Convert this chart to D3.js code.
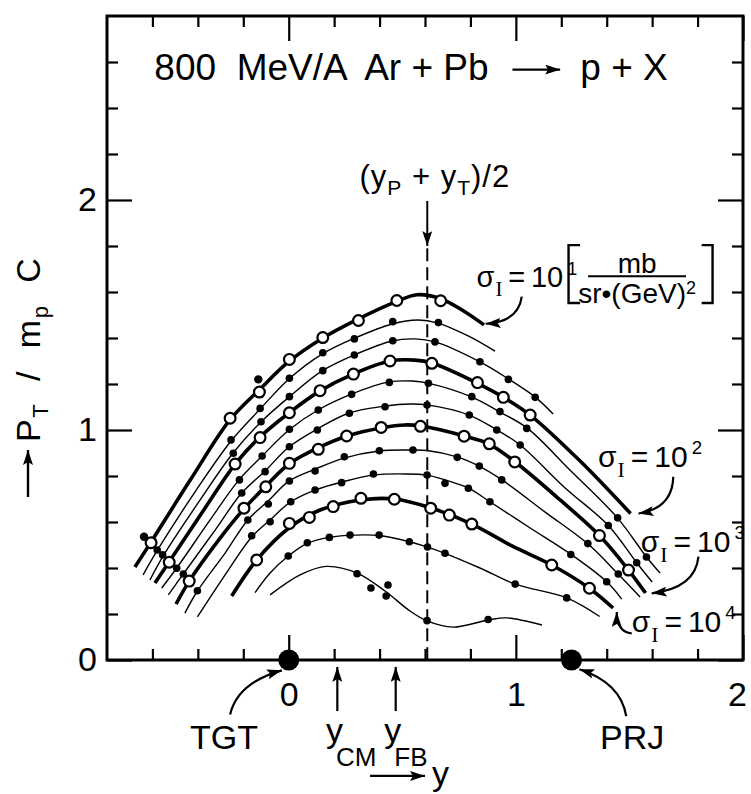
<!DOCTYPE html>
<html>
<head>
<meta charset="utf-8">
<script src="https://cdn.jsdelivr.net/npm/d3@7"></script>
<style>
  body { margin: 0; background: #fff; }
  svg { display: block; font-family: "Liberation Sans", Arial, sans-serif; }
  text { fill: #000; }
  .tick text { font-size: 34px; font-family: "Liberation Sans", Arial, sans-serif; }
</style>
</head>
<body>
<div id="graph"></div>
<script>
// contours of constant invariant cross section, [rapidity y, pT/mpc]
// fit lines and measured points read off the figure, sigma = 10^1 (top) down to the lowest contour
const c1Fit = [[-0.677, 0.404], [-0.606, 0.513], [-0.435, 0.780], [-0.258, 1.045], [-0.126, 1.178], [0.001, 1.298], [0.147, 1.398], [0.305, 1.482], [0.473, 1.558], [0.565, 1.588], [0.666, 1.572], [0.763, 1.522], [0.860, 1.457]];
const c1Pts = [[-0.606, 0.510], [-0.258, 1.051], [-0.129, 1.165], [0.003, 1.307], [0.150, 1.402], [0.307, 1.476], [0.476, 1.563], [0.669, 1.562]];
const c1Extra = [[-0.637, 0.536], [-0.134, 1.220]];

const c2Fit = [[-0.641, 0.370], [-0.580, 0.474], [-0.413, 0.730], [-0.254, 0.952], [-0.126, 1.091], [0.001, 1.222], [0.147, 1.330], [0.292, 1.400], [0.455, 1.461], [0.569, 1.478], [0.657, 1.465], [0.790, 1.409], [0.908, 1.343]];
const c2Pts = [[-0.579, 0.478], [-0.254, 0.957], [-0.126, 1.094], [0.003, 1.225], [0.150, 1.336], [0.289, 1.396], [0.458, 1.471], [0.659, 1.467]];

const c3Fit = [[-0.611, 0.348], [-0.553, 0.452], [-0.390, 0.696], [-0.245, 0.900], [-0.122, 1.035], [0.001, 1.143], [0.147, 1.257], [0.288, 1.326], [0.455, 1.387], [0.556, 1.396], [0.644, 1.383], [0.842, 1.296], [0.967, 1.222], [1.085, 1.143], [1.164, 1.070]];
const c3Pts = [[-0.555, 0.457], [-0.244, 0.899], [-0.122, 1.036], [0.003, 1.145], [0.150, 1.258], [0.289, 1.326], [0.458, 1.388], [0.644, 1.383], [0.842, 1.297], [0.967, 1.220], [1.085, 1.142]];

const c4Fit = [[-0.589, 0.335], [-0.527, 0.426], [-0.368, 0.661], [-0.236, 0.852], [-0.126, 0.970], [0.001, 1.074], [0.138, 1.170], [0.283, 1.243], [0.446, 1.300], [0.556, 1.304], [0.631, 1.291], [0.829, 1.204], [0.944, 1.143], [1.063, 1.065], [1.283, 0.865], [1.505, 0.637]];
const c4Pts = [[-0.526, 0.425], [-0.236, 0.852], [-0.126, 0.967], [0.003, 1.075], [0.138, 1.171], [0.285, 1.243], [0.446, 1.300], [0.630, 1.290], [0.831, 1.206], [0.945, 1.142], [1.063, 1.065]];

const c5Fit = [[-0.559, 0.313], [-0.493, 0.400], [-0.346, 0.609], [-0.219, 0.783], [-0.117, 0.887], [0.001, 1.000], [0.129, 1.087], [0.279, 1.157], [0.442, 1.209], [0.543, 1.213], [0.613, 1.204], [0.807, 1.143], [0.930, 1.078], [1.049, 1.009], [1.238, 0.826], [1.448, 0.617], [1.575, 0.448], [1.635, 0.378]];
const c5Pts = [[-0.493, 0.399], [-0.217, 0.783], [-0.117, 0.887], [0.003, 1.003], [0.130, 1.087], [0.277, 1.155], [0.443, 1.207], [0.615, 1.203], [0.806, 1.145], [0.930, 1.080], [1.048, 1.007], [1.448, 0.618], [1.575, 0.448]];

const c6Fit = [[-0.530, 0.283], [-0.464, 0.374], [-0.324, 0.565], [-0.207, 0.726], [-0.104, 0.822], [0.001, 0.926], [0.125, 1.004], [0.266, 1.074], [0.424, 1.104], [0.534, 1.113], [0.609, 1.109], [0.794, 1.065], [0.917, 1.000], [1.019, 0.935], [1.217, 0.748], [1.407, 0.585], [1.532, 0.423], [1.600, 0.339]];
const c6Pts = [[-0.464, 0.374], [-0.207, 0.726], [-0.104, 0.819], [0.003, 0.927], [0.126, 1.000], [0.267, 1.073], [0.424, 1.101], [0.609, 1.109], [0.795, 1.065], [0.916, 1.000], [1.019, 0.935], [1.407, 0.585], [1.532, 0.423]];

const c7Fit = [[-0.496, 0.243], [-0.438, 0.343], [-0.302, 0.530], [-0.197, 0.657], [-0.100, 0.757], [0.001, 0.852], [0.129, 0.922], [0.257, 0.974], [0.406, 1.009], [0.512, 1.022], [0.583, 1.017], [0.772, 0.974], [0.882, 0.939], [0.997, 0.861], [1.195, 0.696], [1.368, 0.541], [1.496, 0.391], [1.571, 0.291]];
const c7Pts = [[-0.438, 0.343], [-0.197, 0.660], [-0.101, 0.753], [0.003, 0.855], [0.130, 0.916], [0.255, 0.974], [0.407, 1.011], [0.580, 1.016], [0.772, 0.973], [0.883, 0.940], [0.995, 0.861], [1.368, 0.541], [1.496, 0.391]];

const c8Fit = [[-0.457, 0.204], [-0.402, 0.300], [-0.280, 0.465], [-0.180, 0.609], [-0.091, 0.691], [0.001, 0.778], [0.116, 0.830], [0.244, 0.878], [0.398, 0.909], [0.534, 0.913], [0.609, 0.911], [0.741, 0.883], [0.838, 0.843], [0.939, 0.783], [1.129, 0.643], [1.318, 0.504], [1.450, 0.374], [1.547, 0.274]];
const c8Pts = [[-0.402, 0.301], [-0.180, 0.609], [-0.090, 0.678], [0.003, 0.778], [0.116, 0.822], [0.245, 0.884], [0.399, 0.910], [0.547, 0.913], [0.742, 0.881], [0.839, 0.843], [0.938, 0.783], [1.317, 0.506], [1.451, 0.374]];

const c9Fit = [[-0.402, 0.187], [-0.280, 0.370], [-0.163, 0.535], [-0.082, 0.609], [0.009, 0.688], [0.116, 0.739], [0.235, 0.774], [0.371, 0.804], [0.512, 0.809], [0.609, 0.804], [0.688, 0.783], [0.790, 0.748], [0.886, 0.688], [1.063, 0.574], [1.243, 0.459], [1.400, 0.340], [1.466, 0.265]];
const c9Pts = [[-0.163, 0.540], [-0.082, 0.601], [0.009, 0.688], [0.116, 0.739], [0.233, 0.771], [0.373, 0.809], [0.609, 0.804], [0.688, 0.768], [0.791, 0.747], [0.886, 0.688], [1.242, 0.459], [1.400, 0.340]];

const c10Fit = [[-0.251, 0.278], [-0.141, 0.435], [0.001, 0.574], [0.138, 0.652], [0.318, 0.696], [0.464, 0.700], [0.627, 0.661], [0.806, 0.591], [0.983, 0.496], [1.158, 0.413], [1.322, 0.313], [1.428, 0.226]];
const c10Pts = [[-0.141, 0.435], [0.003, 0.594], [0.091, 0.620], [0.196, 0.667], [0.318, 0.703], [0.465, 0.699], [0.625, 0.660], [0.707, 0.630], [0.806, 0.591], [1.158, 0.413], [1.324, 0.312]];

const c11Fit = [[-0.148, 0.293], [-0.082, 0.378], [-0.002, 0.452], [0.082, 0.507], [0.179, 0.533], [0.292, 0.543], [0.398, 0.541], [0.531, 0.514], [0.611, 0.491], [0.688, 0.464], [0.842, 0.400], [0.997, 0.330], [1.224, 0.270], [1.369, 0.189]];
const c11Pts = [[-0.002, 0.452], [0.082, 0.510], [0.179, 0.533], [0.270, 0.543], [0.398, 0.543], [0.531, 0.514], [0.611, 0.491], [0.688, 0.464], [0.997, 0.330], [1.224, 0.270]];

const c12Fit = [[-0.082, 0.283], [0.050, 0.370], [0.164, 0.407], [0.301, 0.378], [0.424, 0.300], [0.534, 0.213], [0.609, 0.170], [0.724, 0.143], [0.878, 0.174], [0.961, 0.183], [1.115, 0.152]];
const c12Pts = [[0.301, 0.375], [0.362, 0.313], [0.437, 0.326], [0.429, 0.278], [0.609, 0.171], [0.878, 0.176]];

// rapidities marked on the axis
const yTarget = 0;
const yProjectile = 1.245;
const yCM = 0.214;
const yFB = 0.471;
const yMid = 0.61;

// axes
const xDomain = [-0.8, 2.0];
const yDomain = [0, 2.8];
const xMinorTicks = [-0.6, -0.4, -0.2, 0.2, 0.4, 0.6, 0.8, 1.2, 1.4, 1.6, 1.8];
const xMajorTicks = [0, 1, 2];
const yMinorTicks = [0.2, 0.4, 0.6, 0.8, 1.2, 1.4, 1.6, 1.8, 2.2, 2.4, 2.6];
const yMajorTicks = [0, 1, 2];

// thick contours (open points) are the labelled decades
const sigmaExponents = ["1", "2", "3", "4"];

class RapidityPlot {
    constructor(options) {
        this.graphdiv = options.graphdiv;
        this.width = options.width || 751;
        this.height = options.height || 794;
        this.frame = options.frame;
        this.curves = options.curves;
        this.initialize();
    }

    initialize() {
        const f = this.frame;
        this.svg = d3.select(this.graphdiv).append("svg")
            .attr("width", this.width)
            .attr("height", this.height);
        this.x = d3.scaleLinear().domain(xDomain).range([f.left, f.right]);
        this.y = d3.scaleLinear().domain(yDomain).range([f.bottom, f.top]);

        const head = this.svg.append("defs").append("marker")
            .attr("id", "head")
            .attr("viewBox", "0 0 10 10")
            .attr("refX", 10).attr("refY", 5)
            .attr("markerWidth", 15).attr("markerHeight", 10)
            .attr("markerUnits", "userSpaceOnUse")
            .attr("preserveAspectRatio", "none")
            .attr("orient", "auto");
        head.append("path").attr("d", "M0,0L10,5L0,10L2,5z").attr("fill", "#000");

        this.drawCurves();
        this.drawAxes();
        this.drawAnnotations();
    }

    drawCurves() {
        const x = this.x, y = this.y;
        const line = d3.line()
            .x(d => x(d[0]))
            .y(d => y(d[1]))
            .curve(d3.curveCatmullRom.alpha(0.5));

        // dashed line at (yP + yT)/2
        this.svg.append("line")
            .attr("x1", x(yMid)).attr("x2", x(yMid))
            .attr("y1", y(1.79)).attr("y2", y(0))
            .attr("stroke", "#000").attr("stroke-width", 2)
            .attr("stroke-dasharray", "13,6");

        const g = this.svg.append("g");
        g.selectAll(".fit").data(this.curves).enter()
            .append("path").attr("class", "fit")
            .attr("d", d => line(d.fit))
            .attr("fill", "none")
            .attr("stroke", "#000")
            .attr("stroke-width", d => d.thick ? 3.6 : 1.4);

        this.curves.forEach(c => {
            g.selectAll(null).data(c.pts).enter()
                .append("circle")
                .attr("cx", d => x(d[0]))
                .attr("cy", d => y(d[1]))
                .attr("r", c.thick ? 5.4 : 3.8)
                .attr("fill", c.thick ? "#fff" : "#000")
                .attr("stroke", "#000")
                .attr("stroke-width", c.thick ? 2.2 : 0);
        });

        g.selectAll(null).data(c1Extra).enter()
            .append("circle")
            .attr("cx", d => x(d[0]))
            .attr("cy", d => y(d[1]))
            .attr("r", 4.2)
            .attr("fill", "#000");
    }

    drawAxes() {
        const f = this.frame, x = this.x, y = this.y;
        const clean = g => {
            g.select(".domain").remove();
            g.attr("font-size", null).attr("font-family", null);
            g.selectAll("line").attr("stroke-width", 2.2);
        };
        const none = () => "";

        this.svg.append("g").attr("transform", `translate(0,${f.bottom})`)
            .call(d3.axisBottom(x).tickValues(xMinorTicks).tickSize(-11).tickFormat(none)).call(clean);
        const xl = this.svg.append("g").attr("transform", `translate(0,${f.bottom})`)
            .call(d3.axisBottom(x).tickValues(xMajorTicks).tickSize(-25).tickPadding(22).tickFormat(d3.format("d"))).call(clean);
        // last label sits on the frame edge, pull it inside the page
        xl.selectAll(".tick text").filter(d => d === 2).attr("dx", -6);
        this.svg.append("g").attr("transform", `translate(0,${f.top})`)
            .call(d3.axisTop(x).tickValues(xMinorTicks).tickSize(-11).tickFormat(none)).call(clean);
        this.svg.append("g").attr("transform", `translate(0,${f.top})`)
            .call(d3.axisTop(x).tickValues(xMajorTicks).tickSize(-25).tickFormat(none)).call(clean);

        this.svg.append("g").attr("transform", `translate(${f.left},0)`)
            .call(d3.axisLeft(y).tickValues(yMinorTicks).tickSize(-11).tickFormat(none)).call(clean);
        this.svg.append("g").attr("transform", `translate(${f.left},0)`)
            .call(d3.axisLeft(y).tickValues(yMajorTicks).tickSize(-25).tickPadding(10).tickFormat(d3.format("d"))).call(clean);
        this.svg.append("g").attr("transform", `translate(${f.right},0)`)
            .call(d3.axisRight(y).tickValues(yMinorTicks).tickSize(-11).tickFormat(none)).call(clean);
        this.svg.append("g").attr("transform", `translate(${f.right},0)`)
            .call(d3.axisRight(y).tickValues(yMajorTicks).tickSize(-25).tickFormat(none)).call(clean);

        this.svg.append("rect")
            .attr("x", f.left).attr("y", f.top)
            .attr("width", f.right - f.left).attr("height", f.bottom - f.top)
            .attr("fill", "none").attr("stroke", "#000").attr("stroke-width", 3);

        // target and projectile rapidities
        this.svg.selectAll(".beam").data([yTarget, yProjectile]).enter()
            .append("circle").attr("class", "beam")
            .attr("cx", d => x(d)).attr("cy", y(0)).attr("r", 10.5)
            .attr("fill", "#000");
    }

    arrow(pts, width) {
        const x = this.x, y = this.y;
        const p = d3.path();
        p.moveTo(x(pts[0][0]), y(pts[0][1]));
        if (pts.length === 3)
            p.quadraticCurveTo(x(pts[1][0]), y(pts[1][1]), x(pts[2][0]), y(pts[2][1]));
        else
            p.lineTo(x(pts[1][0]), y(pts[1][1]));
        this.svg.append("path")
            .attr("d", p.toString())
            .attr("fill", "none").attr("stroke", "#000")
            .attr("stroke-width", width || 2.2)
            .attr("marker-end", "url(#head)");
    }

    text(xv, yv, size, anchor) {
        return this.svg.append("text")
            .attr("x", this.x(xv)).attr("y", this.y(yv))
            .attr("font-size", size)
            .attr("text-anchor", anchor || "start")
            .style("white-space", "pre");
    }

    sigmaLabel(xv, yv, exp, size) {
        const t = this.text(xv, yv, size);
        t.append("tspan").text("σ");
        t.append("tspan").attr("dy", 0.32 * size).attr("dx", 1)
            .attr("font-family", "Liberation Serif, serif")
            .attr("font-size", size * 0.72).text("I");
        t.append("tspan").attr("dy", -0.32 * size).text("\u2009=\u200910");
        t.append("tspan").attr("dy", -0.42 * size).attr("dx", 4)
            .attr("font-size", size * 0.62).text(exp);
        return t;
    }

    bracket(xEdge, xSerif, yTop, yBottom) {
        const x = this.x, y = this.y;
        this.svg.append("path")
            .attr("d", d3.line()([[x(xSerif), y(yTop)], [x(xEdge), y(yTop)], [x(xEdge), y(yBottom)], [x(xSerif), y(yBottom)]]))
            .attr("fill", "none").attr("stroke", "#000").attr("stroke-width", 2.4);
    }

    drawAnnotations() {
        const x = this.x, y = this.y;

        // title
        this.text(0.880, 2.522, 37, "end").text("800  MeV/A  Ar + Pb");
        this.arrow([[0.985, 2.567], [1.195, 2.567]], 2.4);
        this.text(1.284, 2.522, 37).text("p + X");

        // (yP + yT)/2
        const mid = this.text(0.975, 2.057, 31, "end").attr("letter-spacing", 1);
        mid.append("tspan").text("(y");
        mid.append("tspan").attr("dy", 8).attr("font-size", 21).text("P");
        mid.append("tspan").attr("dy", -8).text(" + y");
        mid.append("tspan").attr("dy", 8).attr("font-size", 21).text("T");
        mid.append("tspan").attr("dy", -8).text(")/2");
        this.arrow([[yMid, 1.996], [yMid, 1.80]], 2);

        // contour labels
        this.sigmaLabel(0.827, 1.623, sigmaExponents[0], 29);
        this.bracket(1.232, 1.283, 1.804, 1.552);
        this.bracket(1.866, 1.818, 1.804, 1.552);
        this.text(1.534, 1.683, 28, "middle").text("mb");
        this.svg.append("line")
            .attr("x1", x(1.318)).attr("x2", x(1.749))
            .attr("y1", y(1.668)).attr("y2", y(1.668))
            .attr("stroke", "#000").attr("stroke-width", 2);
        const den = this.text(1.534, 1.553, 28, "middle");
        den.append("tspan").text("sr•(GeV)");
        den.append("tspan").attr("dy", -9).attr("font-size", 18).text("2");
        this.arrow([[1.026, 1.580], [1.011, 1.470], [0.867, 1.462]]);

        this.sigmaLabel(1.362, 0.839, sigmaExponents[1], 30);
        this.arrow([[1.693, 0.797], [1.690, 0.660], [1.540, 0.637]]);
        this.sigmaLabel(1.550, 0.470, sigmaExponents[2], 30);
        this.arrow([[1.804, 0.449], [1.790, 0.312], [1.598, 0.290]]);
        this.sigmaLabel(1.510, 0.122, sigmaExponents[3], 30);
        this.arrow([[1.510, 0.116], [1.444, 0.123], [1.444, 0.209]]);

        // rapidity marks below the axis
        this.text(-0.285, -0.389, 34, "middle").text("TGT");
        this.text(1.512, -0.389, 34, "middle").text("PRJ");
        this.arrow([[-0.258, -0.237], [-0.225, -0.099], [-0.030, -0.045]]);
        this.arrow([[1.486, -0.244], [1.462, -0.099], [1.280, -0.040]]);

        this.arrow([[yCM, -0.222], [yCM, -0.030]]);
        this.arrow([[yFB, -0.222], [yFB, -0.030]]);
        [[yCM, "CM"], [yFB, "FB"]].forEach(([v, sub]) => {
            const t = this.text(v - 0.05, -0.357, 34);
            t.append("tspan").text("y");
            t.append("tspan").attr("dy", 24).attr("dx", -7).attr("font-size", 26).text(sub);
        });

        this.arrow([[0.358, -0.504], [0.600, -0.504]], 2.4);
        this.text(0.631, -0.543, 34).text("y");

        // y axis label, rotated
        this.svg.append("path")
            .attr("d", d3.line()([[28, 497], [28, 450]]))
            .attr("stroke", "#000").attr("stroke-width", 2.4)
            .attr("marker-end", "url(#head)");
        const yl = this.svg.append("text")
            .attr("transform", "translate(40,442) rotate(-90)")
            .attr("font-size", 34)
            .attr("letter-spacing", 1.5)
            .style("white-space", "pre");
        yl.append("tspan").text("P");
        yl.append("tspan").attr("dy", 8).attr("font-size", 22).text("T");
        yl.append("tspan").attr("dy", -8).text("  /  m");
        yl.append("tspan").attr("dy", 8).attr("font-size", 22).text("p");
        yl.append("tspan").attr("dy", -8).text("  C");
    }
}

const curves = [
    {fit: c1Fit, pts: c1Pts, thick: true},
    {fit: c2Fit, pts: c2Pts},
    {fit: c3Fit, pts: c3Pts},
    {fit: c4Fit, pts: c4Pts, thick: true},
    {fit: c5Fit, pts: c5Pts},
    {fit: c6Fit, pts: c6Pts},
    {fit: c7Fit, pts: c7Pts, thick: true},
    {fit: c8Fit, pts: c8Pts},
    {fit: c9Fit, pts: c9Pts},
    {fit: c10Fit, pts: c10Pts, thick: true},
    {fit: c11Fit, pts: c11Pts},
    {fit: c12Fit, pts: c12Pts}
];

new RapidityPlot({
    graphdiv: "#graph",
    width: 751,
    height: 794,
    frame: {left: 107, right: 743, top: 16, bottom: 660},
    curves: curves
});
</script>
</body>
</html>
